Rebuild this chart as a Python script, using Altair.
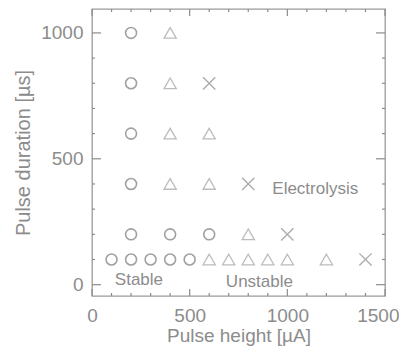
import altair as alt
import pandas as pd

# ---- data ----
stable_x = [100, 200, 300, 400, 500, 200, 400, 600, 200, 200, 200, 200]
stable_y = [100, 100, 100, 100, 100, 200, 200, 200, 400, 600, 800, 1000]

unstable_x = [600, 700, 800, 900, 1000, 1200, 800, 400, 600, 400, 600, 400, 400]
unstable_y = [100, 100, 100, 100, 100, 100, 200, 400, 400, 600, 600, 800, 1000]

electro_x = [1400, 1000, 800, 600]
electro_y = [100, 200, 400, 800]

label_text = ["Stable", "Unstable", "Electrolysis"]
label_x = [117, 857, 923]
label_y = [20, 12, 381]
label_align = ["left", "center", "left"]

x_major = [0, 500, 1000, 1500]
x_minor = [100, 200, 300, 400, 600, 700, 800, 900, 1100, 1200, 1300, 1400]
y_major = [0, 500, 1000]
y_minor = [100, 200, 300, 400, 600, 700, 800, 900]

W, H = 293, 287
GREY = "#8c8c8c"
FONT = "Liberation Sans"

xs = alt.Scale(domain=[0, 1500], nice=False, zero=False)
ys = alt.Scale(domain=[-45, 1095], nice=False, zero=False)

x_axis = alt.Axis(values=x_major, format="d", title="Pulse height [µA]", ticks=False, tickSize=0,
                  domain=False, grid=False, labelFontSize=19, titleFontSize=19,
                  labelColor=GREY, titleColor=GREY, titleFontWeight="normal",
                  labelFont=FONT, titleFont=FONT, labelPadding=10, titlePadding=1,
                  labelFlush=False,
                  labelAlign={"expr": "datum.value >= 1500 ? 'right' : 'center'"},
                  labelOffset={"expr": "datum.value >= 1500 ? 14 : 0"})
y_axis = alt.Axis(values=y_major, format="d", title="Pulse duration [µs]", ticks=False, tickSize=0,
                  domain=False, grid=False, labelFontSize=19, titleFontSize=20,
                  labelColor=GREY, titleColor=GREY, titleFontWeight="normal",
                  labelFont=FONT, titleFont=FONT, labelPadding=9, titlePadding=7,
                  labelFlush=False)

def X(field):
    return alt.X(field, scale=xs, axis=x_axis)

def Y(field):
    return alt.Y(field, scale=ys, axis=y_axis)

stable_df = pd.DataFrame({"x": stable_x, "y": stable_y})
unstable_df = pd.DataFrame({"x": unstable_x, "y": unstable_y})
electro_df = pd.DataFrame({"x": electro_x, "y": electro_y})
labels_df = pd.DataFrame({"t": label_text, "x": label_x, "y": label_y, "a": label_align})

circles = alt.Chart(stable_df).mark_point(
    shape="circle", size=120, filled=False, stroke="#7a7a7a", strokeWidth=1.6
).encode(x=X("x:Q"), y=Y("y:Q"))

triangles = alt.Chart(unstable_df).mark_point(
    shape="triangle-up", size=150, filled=False, stroke="#a0a0a0", strokeWidth=1.3
).encode(x=X("x:Q"), y=Y("y:Q"))

crosses = alt.Chart(electro_df).mark_point(
    shape="M-1,-1L1,1M-1,1L1,-1", size=150, filled=False, stroke="#8a8a8a", strokeWidth=1.4
).encode(x=X("x:Q"), y=Y("y:Q"))

def text_layer(align):
    return alt.Chart(labels_df[labels_df["a"] == align]).mark_text(
        align=align, baseline="middle", fontSize=17, font=FONT, color=GREY
    ).encode(x=X("x:Q"), y=Y("y:Q"), text="t:N")

def xticks(vals, length):
    df = pd.DataFrame({"x": vals})
    base = alt.Chart(df).mark_rule(color=GREY, strokeWidth=1.2)
    b = base.encode(x=X("x:Q"), y=alt.value(H), y2=alt.value(H - length))
    t = base.encode(x=X("x:Q"), y=alt.value(0), y2=alt.value(length))
    return [b, t]

def yticks(vals, length):
    df = pd.DataFrame({"y": vals})
    base = alt.Chart(df).mark_rule(color=GREY, strokeWidth=1.2)
    l = base.encode(y=Y("y:Q"), x=alt.value(0), x2=alt.value(length))
    r = base.encode(y=Y("y:Q"), x=alt.value(W), x2=alt.value(W - length))
    return [l, r]

layers = [circles, triangles, crosses, text_layer("left"), text_layer("center")]
layers += xticks(x_major, 7) + xticks(x_minor, 3) + yticks(y_major, 9) + yticks(y_minor, 3)

chart = alt.layer(*layers).properties(
    width=W, height=H,
    autosize=alt.AutoSizeParams(type="none"),
    padding={"left": 84, "top": 1, "right": 14, "bottom": 52},
    background="white",
).configure_view(stroke="#9a9a9a", strokeWidth=1.3)

chart.save("out.html", embed_options={"renderer": "svg", "actions": False})
